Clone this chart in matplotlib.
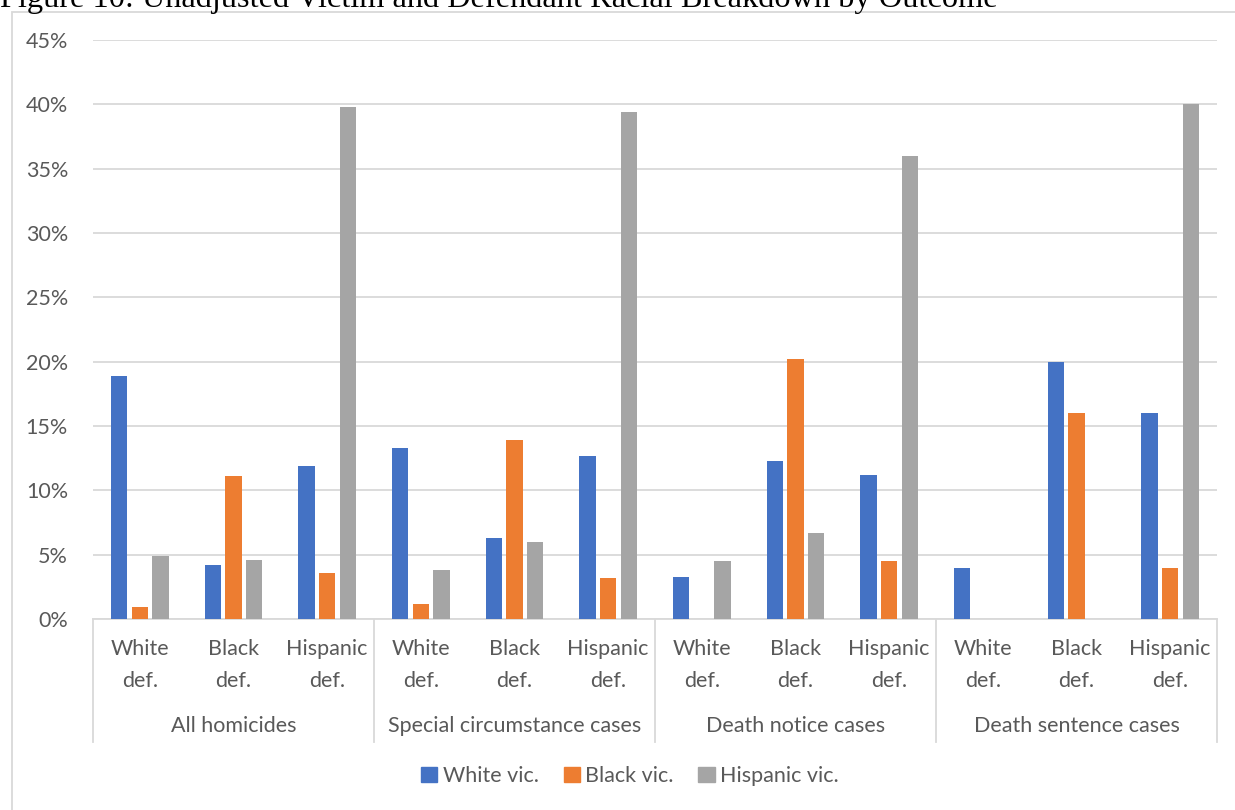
import matplotlib
matplotlib.use("Agg")
import matplotlib.pyplot as plt
from matplotlib.patches import Rectangle
from matplotlib.lines import Line2D
import matplotlib.transforms as mtransforms
from matplotlib.ticker import FuncFormatter, MultipleLocator

# Data (percent)
groups = ["All homicides", "Special circumstance cases", "Death notice cases", "Death sentence cases"]
defendants = ["White\ndef.", "Black\ndef.", "Hispanic\ndef."]
series_names = ["White vic.", "Black vic.", "Hispanic vic."]
white_vic = [18.9, 4.2, 11.9, 13.3, 6.3, 12.7, 3.3, 12.3, 11.2, 4.0, 20.0, 16.0]
black_vic = [0.9, 11.1, 3.6, 1.2, 13.9, 3.2, 0.0, 20.2, 4.5, 0.0, 16.0, 4.0]
hispanic_vic = [4.9, 4.6, 39.8, 3.8, 6.0, 39.4, 4.5, 6.7, 36.0, 0.0, 0.0, 40.0]
colors = ["#4472C4", "#ED7D31", "#A5A5A5"]

W, H = 1235, 810
fig = plt.figure(figsize=(W / 100, H / 100), dpi=100)
fig.patch.set_facecolor("white")

def fx(px):
    return px / W

def fy(py):
    return 1 - py / H

font = ["Lato", "DejaVu Sans"]
txt_color = "#595959"
grid_color = "#D9D9D9"
fs = 15.5

# Chart area outline
fig.add_artist(Rectangle((fx(12), fy(830)), fx(1260) - fx(12), fy(12) - fy(830),
                         transform=fig.transFigure, fill=False,
                         edgecolor=grid_color, lw=1.3, clip_on=False))

# Title
fig.text(0.0, fy(7), "Figure 10: Unadjusted Victim and Defendant Racial Breakdown by Outcome",
         family=["Liberation Serif"], fontsize=23.3, va="baseline", ha="left", color="black")

left, right, top, bottom = 93, 1217, 40, 619
ax = fig.add_axes([fx(left), fy(bottom), fx(right) - fx(left), fy(top) - fy(bottom)])

n = len(white_vic)
x = list(range(n))
pitch = 0.222
width = 0.175
for j, (vals, c) in enumerate(zip([white_vic, black_vic, hispanic_vic], colors)):
    ax.bar([xi + (j - 1) * pitch for xi in x], vals, width=width, color=c,
           label=series_names[j], zorder=3)

ax.set_xlim(-0.5, n - 0.5)
ax.set_ylim(0, 45)
ax.yaxis.set_major_locator(MultipleLocator(5))
ax.yaxis.set_major_formatter(FuncFormatter(lambda v, p: f"{v:.0f}%"))
ax.grid(axis="y", color=grid_color, lw=1.3, zorder=0)
for s in ["top", "right", "left"]:
    ax.spines[s].set_visible(False)
ax.spines["bottom"].set_color(grid_color)
ax.spines["bottom"].set_linewidth(1.3)
ax.tick_params(axis="y", length=0, pad=18, labelsize=fs, labelcolor=txt_color)
for lab in ax.get_yticklabels():
    lab.set_family(font)
ax.set_xticks([])

# Category axis: defendant labels, group labels, separators
to_px = mtransforms.blended_transform_factory(ax.transData, fig.transFigure)
for i in range(n):
    ax.text(i, fy(665), defendants[i % 3], transform=to_px, ha="center", va="center",
            fontsize=fs, color=txt_color, family=font, linespacing=1.7)
for g, name in enumerate(groups):
    ax.text(3 * g + 1, fy(726), name, transform=to_px, ha="center", va="center",
            fontsize=fs, color=txt_color, family=font)
for b in [-0.5, 2.5, 5.5, 8.5, 11.5]:
    ax.add_line(Line2D([b, b], [fy(bottom), fy(742)], transform=to_px,
                       color=grid_color, lw=1.3, clip_on=False))

# Legend
handles = [Rectangle((0, 0), 1, 1, color=c) for c in colors]
fig.legend(handles, series_names, loc="center", bbox_to_anchor=(fx(630), fy(776)),
           ncol=3, frameon=False, prop={"family": font, "size": fs},
           labelcolor=txt_color, handlelength=0.75, handleheight=0.75,
           handletextpad=0.25, columnspacing=1.15)

fig.savefig("out.png", dpi=100)
